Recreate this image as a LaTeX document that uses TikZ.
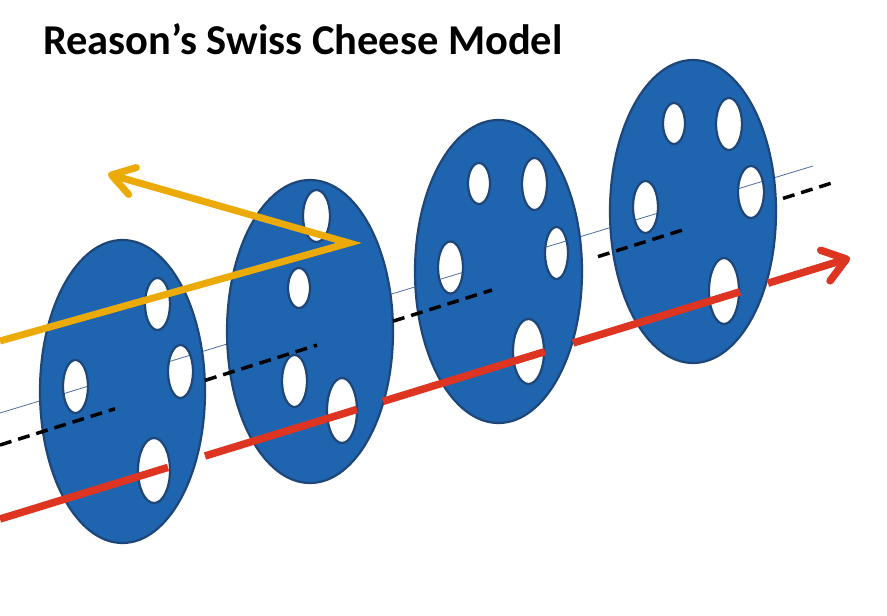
\documentclass[tikz,border=0pt]{standalone}
\usepackage{fontspec}
\setmainfont{Carlito}
\usetikzlibrary{arrows.meta}

\definecolor{sliceblue}{RGB}{31,100,174}
\definecolor{sliceedge}{RGB}{30,70,120}
\definecolor{hazardred}{RGB}{222,52,34}
\definecolor{bouncegold}{RGB}{236,170,6}
\definecolor{thinblue}{RGB}{80,110,160}

\tikzset{
	slice/.style = {draw = sliceedge, fill = sliceblue, line width = 2.2pt, even odd rule},
	redpath/.style = {hazardred, line width = 7.5pt},
	goldpath/.style = {bouncegold, line width = 7pt, line join = miter},
	dashpath/.style = {black, line width = 3.5pt, dash pattern = on 12pt off 7pt},
}

\begin{document}
\begin{tikzpicture}[x = 1pt, y = -1pt]
	
	\useasboundingbox (0, 0) rectangle (887, 616);
	\fill[white] (0, 0) rectangle (887, 616);
	
	\node[anchor = base west, inner sep = 0pt, font = \bfseries\fontsize{42.5}{50}\selectfont] (title) at (43, 54) {Reason’s Swiss Cheese Model};
	
	% thin line, seen through the holes
	\draw[thinblue, line width = 0.8pt] (0, 413) to (813, 166);
	
	% slices
	\draw[slice] (122.5, 391.5) ellipse (82.5pt and 151.5pt)
		(157.5, 304) ellipse (12.5pt and 26pt)
		(180.5, 371.5) ellipse (12.5pt and 26.5pt)
		(75.5, 386.5) ellipse (12.5pt and 26.5pt)
		(154, 470.5) ellipse (16pt and 32.5pt);
	
	\draw[slice] (310, 331.5) ellipse (83pt and 151.5pt)
		(316.5, 216) ellipse (13.5pt and 26pt)
		(299, 288) ellipse (11pt and 20pt)
		(294.5, 381) ellipse (12.5pt and 26pt)
		(342, 410.5) ellipse (15pt and 32.5pt);
	
	\draw[slice] (498.5, 271.5) ellipse (83.5pt and 151.5pt)
		(479, 183.5) ellipse (11pt and 20.5pt)
		(534.5, 184) ellipse (12.5pt and 26pt)
		(556.5, 253) ellipse (11.5pt and 26pt)
		(450.5, 267.5) ellipse (12.5pt and 26pt)
		(528.5, 351.5) ellipse (15.5pt and 32.5pt);
	
	\draw[slice] (693, 211.5) ellipse (83pt and 151.5pt)
		(674, 123.5) ellipse (11pt and 20.5pt)
		(729, 124) ellipse (13pt and 26pt)
		(751, 192) ellipse (13pt and 26pt)
		(645.5, 207) ellipse (12.5pt and 26pt)
		(724, 291) ellipse (15pt and 33pt);
	
	% dashed line
	\draw[dashpath] (0, 445) to (115, 408.8);
	\draw[dashpath] (205, 380.4) to (317, 345.1);
	\draw[dashpath] (393, 321.2) to (492, 290);
	\draw[dashpath] (598, 256.6) to (688, 228.3);
	\draw[dashpath] (783, 198.4) to (835, 182);
	
	% red line through the holes
	\draw[redpath] (0, 519) to (168, 467.4);
	\draw[redpath] (205, 456) to (357, 409.4);
	\draw[redpath] (383, 401.4) to (545, 351.6);
	\draw[redpath] (573, 343) to (740, 291.8);
	\draw[redpath, -{Straight Barb[round, length = 22pt, width = 32pt]}] (768, 283.2) to (850, 258);
	
	% yellow line, turned back
	\draw[goldpath, -{Straight Barb[round, length = 22pt, width = 28pt]}] (0, 341) to (349, 243) to (108, 174);
	
\end{tikzpicture}
\end{document}
